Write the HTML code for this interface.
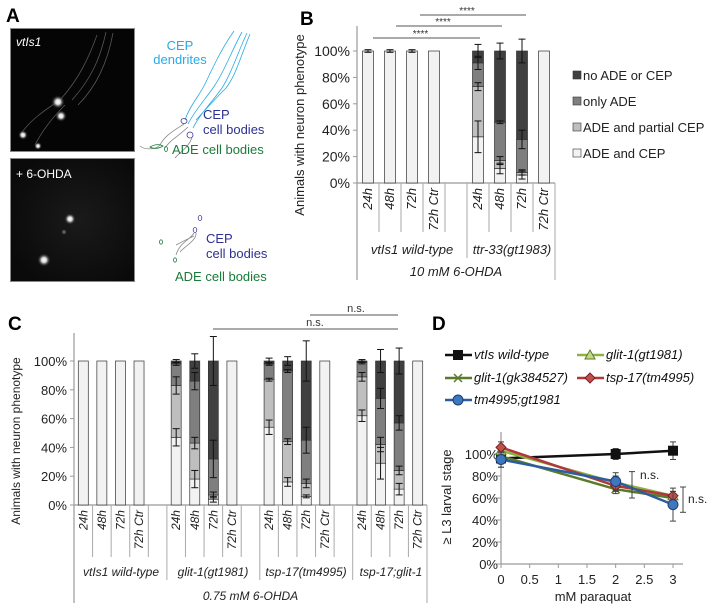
<!DOCTYPE html>
<html><head><meta charset="utf-8">
<style>
html,body{margin:0;padding:0;background:#fff;}
svg{display:block;font-family:"Liberation Sans",Arial,sans-serif;}
</style></head>
<body>
<svg id="fig" width="708" height="614" viewBox="0 0 708 614" xmlns="http://www.w3.org/2000/svg">
  <!-- Panel A -->
  <g>
    <text x="6" y="22" font-size="19" font-weight="bold">A</text>
    <defs>
      <radialGradient id="glow"><stop offset="0" stop-color="#fff"/><stop offset="0.35" stop-color="#ddd"/><stop offset="1" stop-color="#000" stop-opacity="0"/></radialGradient>
      <radialGradient id="haze" cx="0.55" cy="0.5" r="0.6"><stop offset="0" stop-color="#1a1a1a"/><stop offset="1" stop-color="#0a0a0a"/></radialGradient>
    </defs>
    <g>
      <rect x="10.5" y="28.5" width="124" height="123" fill="#050505" stroke="#888" stroke-width="1"/>
      <path d="M106 32 C100 60 90 80 72 100 M113 33 C108 60 98 85 78 105 M97 35 C88 60 78 80 60 100 M60 100 C45 110 30 120 20 135 M65 105 C50 120 40 135 35 145" stroke="#555" stroke-width="0.8" fill="none"/>
      <circle cx="58" cy="102" r="7" fill="url(#glow)"/>
      <circle cx="61" cy="116" r="6" fill="url(#glow)"/>
      <circle cx="23" cy="135" r="5" fill="url(#glow)"/>
      <circle cx="38" cy="146" r="4" fill="url(#glow)"/>
      <text x="16" y="46" font-size="12" font-style="italic" fill="#fff">vtIs1</text>
    </g>
    <g>
      <rect x="10.5" y="158.5" width="124" height="123" fill="url(#haze)" stroke="#888" stroke-width="1"/>
      <circle cx="70" cy="219" r="6" fill="url(#glow)"/>
      <circle cx="44" cy="260" r="7" fill="url(#glow)"/>
      <circle cx="64" cy="232" r="2" fill="#555"/>
      <text x="16" y="178" font-size="12" fill="#fff">+ 6-OHDA</text>
    </g>
    <g fill="none" stroke-width="0.8">
      <path d="M188 124 C195 110 205 100 215 85 C225 70 232 50 242 32 M193 128 C200 114 212 102 222 88 C232 72 238 52 247 33 M185 120 C190 105 200 95 206 82 C214 65 222 48 234 31 M196 120 C205 110 214 100 226 88 C236 75 240 58 250 34" stroke="#29abe2"/>
      <ellipse cx="184" cy="121" rx="3" ry="2.5" stroke="#3a3a9a"/>
      <ellipse cx="190" cy="135" rx="3" ry="3" stroke="#3a3a9a"/>
      <path d="M184 124 C175 130 165 135 160 145 C155 150 145 150 140 146 M188 127 C180 135 170 140 165 148 M192 138 C188 148 180 152 175 158" stroke="#888"/>
      <path d="M150 147 C155 144 160 144 163 146 C158 149 153 149 150 147Z" stroke="#1a7a3a"/>
      <ellipse cx="166" cy="149" rx="1.5" ry="2.5" stroke="#1a7a3a"/>
      <text x="180" y="50" font-size="13" fill="#29abe2" stroke="none" text-anchor="middle">CEP</text>
      <text x="180" y="64" font-size="13" fill="#29abe2" stroke="none" text-anchor="middle">dendrites</text>
      <text x="203" y="119" font-size="13" fill="#2e3192" stroke="none">CEP</text>
      <text x="203" y="134" font-size="13" fill="#2e3192" stroke="none">cell bodies</text>
      <text x="172" y="154" font-size="13" fill="#1a7a3a" stroke="none">ADE cell bodies</text>
      <ellipse cx="200" cy="218" rx="1.8" ry="2.5" stroke="#3a3a9a"/>
      <ellipse cx="195" cy="230" rx="1.8" ry="2.5" stroke="#3a3a9a"/>
      <ellipse cx="161" cy="242" rx="1.5" ry="2.2" stroke="#1a7a3a"/>
      <ellipse cx="175" cy="260" rx="1.5" ry="2.2" stroke="#1a7a3a"/>
      <path d="M194 233 C190 240 180 242 176 255 M196 233 C197 240 185 246 180 252 M176 245 C185 240 190 238 194 236" stroke="#888"/>
      <text x="206" y="243" font-size="13" fill="#2e3192" stroke="none">CEP</text>
      <text x="206" y="258" font-size="13" fill="#2e3192" stroke="none">cell bodies</text>
      <text x="175" y="281" font-size="13" fill="#1a7a3a" stroke="none">ADE cell bodies</text>
    </g>
  </g>

  <g id="panelB">
    <text x="300" y="25" font-size="19" font-weight="bold">B</text>
  </g>
  <g id="panelC">
    <text x="8" y="330" font-size="19" font-weight="bold">C</text>
  </g>
  <g id="panelD">
    <text x="432" y="330" font-size="19" font-weight="bold">D</text>
  </g>
</svg>
<script>
// ---------- Panel B data ----------
var bCategories = ["24h","48h","72h","72h Ctr","","24h","48h","72h","72h Ctr"];
var bGroups = ["vtIs1 wild-type","ttr-33(gt1983)"];
var bAdeCep    = [100,100,100,100,null,35,11,6,100];
var bPartial   = [0,0,0,0,null,38,6,2,0];
var bOnlyAde   = [0,0,0,0,null,18,29,25,0];
var bNone      = [0,0,0,0,null,9,54,67,0];
var bErrAdeCep = [1,1,1,0,null,12,4,3,0];
var bErrPartial= [0,0,0,0,null,3,3,2,0];
var bErrOnly   = [0,0,0,0,null,5,1,7,0];
var bErrNone   = [0,0,0,0,null,5,6,9,0];
var bTicks = [0,20,40,60,80,100];
var bLegend = ["no ADE or CEP","only ADE","ADE and partial CEP","ADE and CEP"];

// ---------- Panel C data ----------
var cCategories = ["24h","48h","72h","72h Ctr","","24h","48h","72h","72h Ctr","","24h","48h","72h","72h Ctr","","24h","48h","72h","72h Ctr"];
var cGroups = ["vtIs1 wild-type","glit-1(gt1981)","tsp-17(tm4995)","tsp-17;glit-1"];
var cAdeCep  = [100,100,100,100,null,47,18,4,100,null,54,16,6,100,null,62,29,11,100];
var cPartial = [0,0,0,0,null,36,25,3,0,null,33,28,9,0,null,27,13,13,0];
var cOnlyAde = [0,0,0,0,null,15,43,25,0,null,11,49,30,0,null,10,32,33,0];
var cNone    = [0,0,0,0,null,2,14,68,0,null,2,7,55,0,null,1,26,43,0];
var cErrAdeCep  = [0,0,0,0,null,6,6,2,0,null,5,3,1,0,null,4,11,4,0];
var cErrPartial = [0,0,0,0,null,6,4,2,0,null,1,2,3,0,null,3,5,3,0];
var cErrOnly    = [0,0,0,0,null,1,6,13,0,null,1,1,9,0,null,1,7,5,0];
var cErrNone    = [0,0,0,0,null,1,5,17,0,null,2,3,14,0,null,1,8,9,0];
var cTicks = [0,20,40,60,80,100];

// ---------- Panel D data ----------
var dDoses = [0,2,3];
var dXTicks = [0,0.5,1,1.5,2,2.5,3];
var dYTicks = [0,20,40,60,80,100];
var dSeriesNames = ["vtIs wild-type","glit-1(gk384527)","glit-1(gt1981)","tsp-17(tm4995)","tm4995;gt1981"];
var dWild  = [96,100,103];
var dGk = [98,68,60];
var dGt1981 = [103,74,62];
var dTsp = [106,71,62];
var dDouble = [95,75,54];
var dErrWild = [8,5,8];
var dErrGk = [4,4,3];
var dErrGt = [5,6,4];
var dErrTsp = [5,5,4];
var dErrDouble = [7,8,15];

var NS = "http://www.w3.org/2000/svg";
var COLORS = ["#f2f2f2","#bfbfbf","#7f7f7f","#404040"];
function mk(parent, tag, attrs, name, text){
  var el = document.createElementNS(NS, tag);
  for (var k in attrs) el.setAttribute(k, attrs[k]);
  
  
  if (text !== undefined) el.textContent = text;
  parent.appendChild(el);
  return el;
}

function stackedChart(g, cfg){
  var x0=cfg.x0, y0=cfg.y0, y100=cfg.y100, slot=cfg.slot, bw=cfg.bw, fs=cfg.fs;
  var n=cfg.cats.length, xEnd=x0+slot*n;
  function ys(v){ return y0-(y0-y100)*v/100; }
  mk(g,'line',{x1:x0,y1:cfg.axTop,x2:x0,y2:cfg.tableBottom,stroke:'#999','stroke-width':1.2},'y-axis');
  cfg.ticks.forEach(function(t){
    mk(g,'line',{x1:x0-4,y1:ys(t),x2:x0,y2:ys(t),stroke:'#999'},'y-tick');
    mk(g,'text',{x:x0-7,y:ys(t)+5,'font-size':fs+1,'text-anchor':'end',fill:'#222'},'y-tick-label',t+'%');
  });
  mk(g,'line',{x1:x0,y1:y0,x2:xEnd,y2:y0,stroke:'#999','stroke-width':1.2},'x-axis');
  mk(g,'text',{x:cfg.titleX,y:(y0+y100)/2+8,'font-size':fs,'text-anchor':'middle',fill:'#222',transform:'rotate(-90 '+cfg.titleX+' '+((y0+y100)/2+8)+')'},'y-axis-title','Animals with neuron phenotype');
  var segs=[cfg.a,cfg.p,cfg.o,cfg.nn], errs=[cfg.ea,cfg.ep,cfg.eo,cfg.en];
  var segNames=['bar-ade-and-cep','bar-partial-cep','bar-only-ade','bar-no-ade-or-cep'];
  for (var i=0;i<n;i++){
    if (cfg.a[i]===null) continue;
    var cx=x0+slot*i+slot/2, cum=0;
    for (var s=0;s<4;s++){
      var v=segs[s][i]; if(!v) continue;
      mk(g,'rect',{x:cx-bw/2,y:ys(cum+v),width:bw,height:ys(cum)-ys(cum+v),fill:COLORS[s],stroke:'#333','stroke-width':0.7},segNames[s]);
      cum+=v;
    }
    cum=0;
    for (var s2=0;s2<4;s2++){
      var v2=segs[s2][i]; if(!v2 && s2>0) continue;
      cum+=v2; var e=errs[s2][i];
      if (e>0){
        var yt1=ys(cum+e), yb1=ys(cum-e);
        mk(g,'line',{x1:cx,y1:yt1,x2:cx,y2:yb1,stroke:'#111','stroke-width':1},'error-bar');
        mk(g,'line',{x1:cx-3.5,y1:yt1,x2:cx+3.5,y2:yt1,stroke:'#111','stroke-width':1},'error-cap');
        mk(g,'line',{x1:cx-3.5,y1:yb1,x2:cx+3.5,y2:yb1,stroke:'#111','stroke-width':1},'error-cap');
      }
    }
    var lt=y0+5;
    mk(g,'text',{x:cx+4,y:lt,'font-size':fs,'font-style':'italic','text-anchor':'end',fill:'#222',transform:'rotate(-90 '+(cx+4)+' '+lt+')'},'category-label',cfg.cats[i]);
  }
  for (var k=1;k<n;k++){
    var isGroup = cfg.cats[k-1]==="";
    var bx=x0+slot*k;
    mk(g,'line',{x1:bx,y1:y0,x2:bx,y2:isGroup?cfg.groupBottom:cfg.catBottom,stroke:'#aaa'},'table-separator');
  }
  mk(g,'line',{x1:xEnd,y1:y0,x2:xEnd,y2:cfg.tableBottom,stroke:'#aaa'},'table-separator');
  cfg.groups.forEach(function(gr,gi){
    mk(g,'text',{x:cfg.groupCenters[gi],y:cfg.groupY,'font-size':fs,'font-style':'italic','text-anchor':'middle',fill:'#222'},'group-label',gr);
  });
  mk(g,'text',{x:(x0+xEnd)/2,y:cfg.treatY,'font-size':fs,'font-style':'italic','text-anchor':'middle',fill:'#222'},'treatment-label',cfg.treat);
  return ys;
}

// Panel B
var gB=document.getElementById('panelB');
stackedChart(gB,{x0:357,y0:183,y100:51,slot:22,bw:11,fs:13,axTop:26,tableBottom:280,catBottom:232,groupBottom:258,
  titleX:304,cats:bCategories,groups:bGroups,a:bAdeCep,p:bPartial,o:bOnlyAde,nn:bNone,ea:bErrAdeCep,ep:bErrPartial,eo:bErrOnly,en:bErrNone,
  ticks:bTicks,groupY:254,treatY:276,treat:"10 mM 6-OHDA",groupCenters:[412,512]});
[[38,373,480],[26,396,502],[15,420,526]].forEach(function(s){
  mk(gB,'line',{x1:s[1],y1:s[0],x2:s[2],y2:s[0],stroke:'#555'},'significance-line');
  mk(gB,'text',{x:(s[1]+s[2])/2-6,y:s[0]-1,'font-size':10,'text-anchor':'middle',fill:'#333'},'significance-stars','****');
});
bLegend.forEach(function(l,i){
  var y=80+i*26;
  mk(gB,'rect',{x:573,y:y-9,width:8,height:8,fill:COLORS[3-i],stroke:'#333','stroke-width':0.6},'legend-swatch');
  mk(gB,'text',{x:583,y:y,'font-size':13,fill:'#222'},'legend-entry',l);
});

// Panel C
var gC=document.getElementById('panelC');
stackedChart(gC,{x0:74,y0:505,y100:361,slot:353/19,bw:10,fs:12,axTop:333,tableBottom:603,catBottom:557,groupBottom:580,
  titleX:20,cats:cCategories,groups:cGroups,a:cAdeCep,p:cPartial,o:cOnlyAde,nn:cNone,ea:cErrAdeCep,ep:cErrPartial,eo:cErrOnly,en:cErrNone,
  ticks:cTicks,groupY:576,treatY:600,treat:"0.75 mM 6-OHDA",groupCenters:[121,213,306,391]});
mk(gC,'line',{x1:213,y1:329,x2:398,y2:329,stroke:'#555'},'significance-line');
mk(gC,'text',{x:315,y:326,'font-size':11,'text-anchor':'middle',fill:'#333'},'significance-label','n.s.');
mk(gC,'line',{x1:310,y1:315,x2:398,y2:315,stroke:'#555'},'significance-line');
mk(gC,'text',{x:356,y:312,'font-size':11,'text-anchor':'middle',fill:'#333'},'significance-label','n.s.');

// Panel D
var gD=document.getElementById('panelD');
var dx0=501, dxs=57.33, dy0=564, dyk=1.1;
function dX(v){ return dx0+v*dxs; }
function dY(v){ return dy0-v*dyk; }
mk(gD,'line',{x1:dx0,y1:dY(120),x2:dx0,y2:dy0,stroke:'#999','stroke-width':1.2},'y-axis');
mk(gD,'line',{x1:dx0,y1:dy0,x2:683,y2:dy0,stroke:'#999','stroke-width':1.2},'x-axis');
dYTicks.forEach(function(t){
  mk(gD,'line',{x1:dx0-4,y1:dY(t),x2:dx0,y2:dY(t),stroke:'#999'},'y-tick');
  mk(gD,'text',{x:dx0-3,y:dY(t)+5,'font-size':13,'text-anchor':'end',fill:'#222'},'y-tick-label',t+'%');
});
dXTicks.forEach(function(t){
  mk(gD,'line',{x1:dX(t),y1:dy0,x2:dX(t),y2:dy0+4,stroke:'#999'},'x-tick');
  mk(gD,'text',{x:dX(t),y:dy0+20,'font-size':13,'text-anchor':'middle',fill:'#222'},'x-tick-label',String(t));
});
mk(gD,'text',{x:593,y:601,'font-size':13,'text-anchor':'middle',fill:'#222'},'x-axis-title','mM paraquat');
mk(gD,'text',{x:451,y:497,'font-size':13,'text-anchor':'middle',fill:'#222',transform:'rotate(-90 451 497)'},'y-axis-title','≥ L3 larval stage');
var dSeries=[dWild,dGk,dGt1981,dTsp,dDouble];
var dErrs=[dErrWild,dErrGk,dErrGt,dErrTsp,dErrDouble];
var dCols=["#111","#5b7a2a","#8db33f","#b0383a","#2d5d9f"];
var dMark=["square","x","triangle","diamond","circle"];
var dNames=["line-wild-type","line-glit-1-gk384527","line-glit-1-gt1981","line-tsp-17","line-double-mutant"];
function marker(g,type,x,y,col){
  if(type==="square") mk(g,'rect',{x:x-5,y:y-5,width:10,height:10,fill:col},'marker');
  else if(type==="circle") mk(g,'circle',{cx:x,cy:y,r:5,fill:'#3f76c0',stroke:'#1d3f70'},'marker');
  else if(type==="diamond") mk(g,'path',{d:'M'+x+' '+(y-5)+'L'+(x+5)+' '+y+'L'+x+' '+(y+5)+'L'+(x-5)+' '+y+'Z',fill:'#c0504d',stroke:'#7a2020'},'marker');
  else if(type==="triangle") mk(g,'path',{d:'M'+x+' '+(y-5)+'L'+(x+5)+' '+(y+4)+'L'+(x-5)+' '+(y+4)+'Z',fill:'#c5d88a',stroke:'#5b7a2a'},'marker');
  else mk(g,'path',{d:'M'+(x-4)+' '+(y-4)+'L'+(x+4)+' '+(y+4)+'M'+(x+4)+' '+(y-4)+'L'+(x-4)+' '+(y+4),stroke:col,'stroke-width':1.5},'marker');
}
dSeries.forEach(function(s,si){
  var pts=s.map(function(v,i){return dX(dDoses[i])+','+dY(v);}).join(' ');
  s.forEach(function(v,i){
    var x=dX(dDoses[i]), e=dErrs[si][i];
    mk(gD,'line',{x1:x,y1:dY(v+e),x2:x,y2:dY(v-e),stroke:'#444'},'error-bar');
    mk(gD,'line',{x1:x-3,y1:dY(v+e),x2:x+3,y2:dY(v+e),stroke:'#444'},'error-cap');
    mk(gD,'line',{x1:x-3,y1:dY(v-e),x2:x+3,y2:dY(v-e),stroke:'#444'},'error-cap');
  });
  mk(gD,'polyline',{points:pts,fill:'none',stroke:dCols[si],'stroke-width':2.5},dNames[si]);
  s.forEach(function(v,i){ marker(gD,dMark[si],dX(dDoses[i]),dY(v),dCols[si]); });
});
[[632,84,60,640,479],[683,70,47,688,503]].forEach(function(b){
  mk(gD,'line',{x1:b[0],y1:dY(b[1]),x2:b[0],y2:dY(b[2]),stroke:'#444'},'ns-bracket');
  mk(gD,'line',{x1:b[0]-3,y1:dY(b[1]),x2:b[0]+3,y2:dY(b[1]),stroke:'#444'},'ns-bracket-cap');
  mk(gD,'line',{x1:b[0]-3,y1:dY(b[2]),x2:b[0]+3,y2:dY(b[2]),stroke:'#444'},'ns-bracket-cap');
  mk(gD,'text',{x:b[3],y:b[4],'font-size':12,fill:'#222'},'ns-label','n.s.');
});
var legPos=[[445,359,0],[577,359,2],[445,382,1],[577,382,3],[445,404,4]];
legPos.forEach(function(p){
  var si=p[2];
  mk(gD,'line',{x1:p[0],y1:p[1]-4,x2:p[0]+27,y2:p[1]-4,stroke:dCols[si],'stroke-width':2.5},'legend-line');
  marker(gD,dMark[si],p[0]+13,p[1]-4,dCols[si]);
  mk(gD,'text',{x:p[0]+29,y:p[1],'font-size':13,'font-style':'italic',fill:'#111'},'legend-entry',dSeriesNames[si]);
});
</script>
</body></html>
